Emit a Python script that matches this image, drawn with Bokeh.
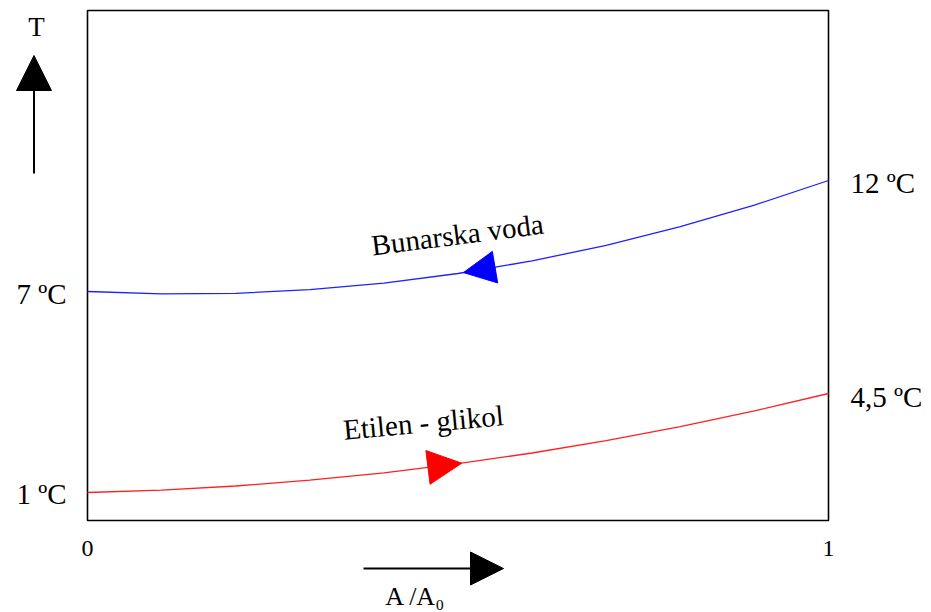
from bokeh.plotting import figure
from bokeh.models import Label, Arrow, NormalHead, Range1d
from bokeh.embed import file_html
from bokeh.resources import INLINE
import numpy as np

# ---- data (schematic vertical position units) ----
x_pts = [0.0, 0.1, 0.2, 0.3, 0.4, 0.5, 0.6, 0.7, 0.8, 0.9, 1.0]
blue_y = [229, 226.6, 227.2, 230.8, 237.4, 247, 259.6, 275.2, 293.8, 315.4, 340]
red_y = [28, 30.4, 34.5, 40.3, 47.7, 56.8, 67.5, 79.9, 93.9, 109.6, 127]
x_ticks = [0, 1]
x_tick_labels = ["0", "1"]
left_labels = ["7 ºC", "1 ºC"]
right_labels = ["12 ºC", "4,5 ºC"]
blue_name = "Bunarska voda"
red_name = "Etilen - glikol"
y_name = "T"
x_name = "A /A₀"
y_top = 510  # top of the drawing box in the schematic units

FONT = "Liberation Serif"

# the data area covers the whole canvas so every text and arrow stays visible
p = figure(width=931, height=612, output_backend="svg", toolbar_location=None,
           x_range=Range1d(-87 / 741, 844 / 741), y_range=Range1d(-92, 520),
           min_border_left=0, min_border_right=0, min_border_top=0, min_border_bottom=0)
p.grid.visible = False
p.axis.visible = False
p.outline_line_color = None
p.background_fill_color = "white"

# drawing box (the plot area of the original)
p.quad(left=[x_ticks[0]], right=[x_ticks[1]], bottom=[0], top=[y_top],
       fill_color=None, line_color="black", line_width=1.6)

# curves
p.line(x_pts, blue_y, line_color="#2020ff", line_width=1.3)
p.line(x_pts, red_y, line_color="#ff2020", line_width=1.3)

# flow direction heads on the curves
bt = 0.5074
p.add_layout(Arrow(end=NormalHead(size=32, fill_color="#0000ff", line_color="#0000ff"),
                   x_start=bt + 0.05, y_start=float(np.interp(bt + 0.05, x_pts, blue_y)),
                   x_end=bt, y_end=float(np.interp(bt, x_pts, blue_y)),
                   line_alpha=0))
rt = 0.505
p.add_layout(Arrow(end=NormalHead(size=34, fill_color="#ff0000", line_color="#ff0000"),
                   x_start=rt - 0.05, y_start=float(np.interp(rt - 0.05, x_pts, red_y)),
                   x_end=rt, y_end=float(np.interp(rt, x_pts, red_y)),
                   line_alpha=0))

# tick labels
for xv, txt in zip(x_ticks, x_tick_labels):
    p.add_layout(Label(x=xv, y=-28, text=txt, text_align="center", text_baseline="middle",
                       text_font=FONT, text_font_size="24px", text_color="black"))

# temperature labels
for txt, yv, yo in [(left_labels[0], blue_y[0], -2), (left_labels[1], red_y[0], -1)]:
    p.add_layout(Label(x=0, y=yv, text=txt, text_align="right", text_baseline="middle",
                       x_offset=-21, y_offset=yo, text_font=FONT, text_font_size="29px",
                       text_color="black"))
for txt, yv, yo in [(right_labels[0], blue_y[-1], -2), (right_labels[1], red_y[-1], -3)]:
    p.add_layout(Label(x=1, y=yv, text=txt, text_align="left", text_baseline="middle",
                       x_offset=22, y_offset=yo, text_font=FONT, text_font_size="29px",
                       text_color="black"))

# curve names
p.add_layout(Label(x=0.4993, y=286, text=blue_name, angle=0.127, text_align="center",
                   text_baseline="alphabetic", text_font=FONT, text_font_size="29px",
                   text_color="black"))
p.add_layout(Label(x=0.4534, y=98, text=red_name, angle=0.092, text_align="center",
                   text_baseline="alphabetic", text_font=FONT, text_font_size="29px",
                   text_color="black"))

# axis arrows and names
p.add_layout(Arrow(end=NormalHead(size=35, fill_color="black", line_color="black"),
                   x_start=-0.0722, y_start=347, x_end=-0.0722, y_end=465,
                   line_color="black", line_width=2))
p.add_layout(Label(x=-0.0688, y=494, text=y_name, text_align="center", text_baseline="middle",
                   text_font=FONT, text_font_size="27px", text_color="black"))
p.add_layout(Arrow(end=NormalHead(size=33, fill_color="black", line_color="black"),
                   x_start=0.3725, y_start=-48, x_end=0.5614, y_end=-48,
                   line_color="black", line_width=2))
p.add_layout(Label(x=0.4426, y=-76, text=x_name, text_align="center", text_baseline="alphabetic",
                   text_font=FONT, text_font_size="26px", text_color="black"))

open("out.html", "w").write(file_html(p, INLINE))
